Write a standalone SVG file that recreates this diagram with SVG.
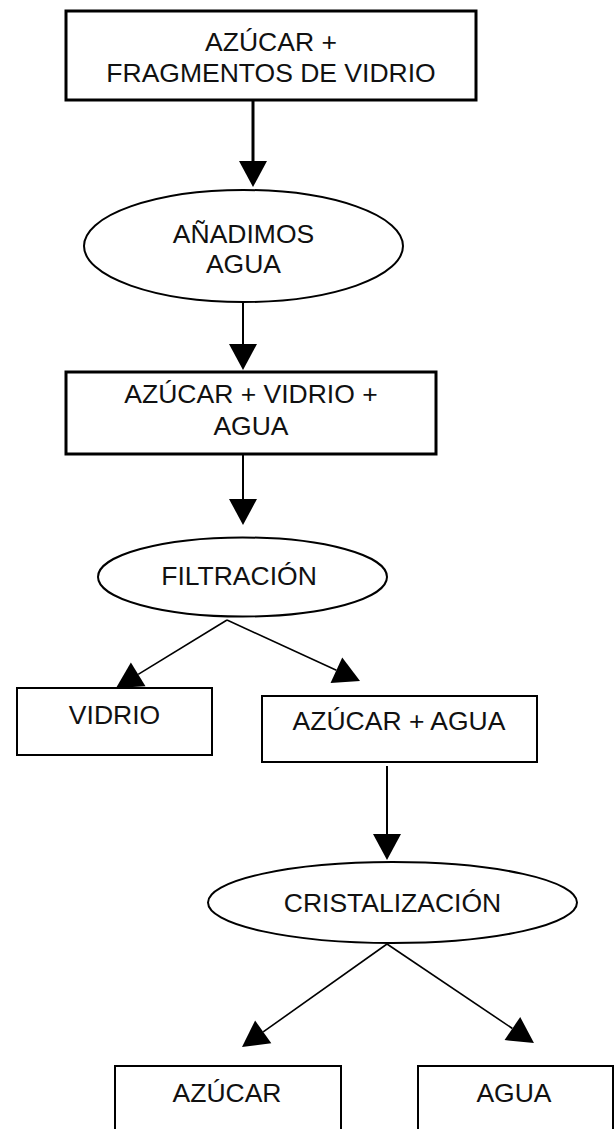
<svg xmlns="http://www.w3.org/2000/svg" width="615" height="1129" viewBox="0 0 615 1129">
<defs>
<marker id="ah" markerUnits="userSpaceOnUse" markerWidth="27" markerHeight="29" refX="0" refY="14" orient="auto" overflow="visible">
<path d="M0,0 L26,14 L0,28 Z" fill="#000"/>
</marker>
</defs>
<style>
.box{fill:#fff;stroke:#000;stroke-width:2}
.thick{stroke-width:3}
.ell{fill:#fff;stroke:#000;stroke-width:2}
.t{font-family:"Liberation Sans",Arial,sans-serif;font-size:26.5px;fill:#111;text-anchor:middle}
.c{fill:none;stroke:#000;stroke-width:2}
.d{fill:none;stroke:#000;stroke-width:1.6}
</style>
<rect width="615" height="1129" fill="#fff"/>
<g id="connectors">
<path class="c" style="stroke-width:3" d="M253,100 L253,161" marker-end="url(#ah)"/>
<path class="c" d="M243,302 L243,344" marker-end="url(#ah)"/>
<path class="c" d="M243,455 L243,499" marker-end="url(#ah)"/>
<path class="d" d="M227,620 L138.2,674.4" marker-end="url(#ah)"/>
<path class="d" d="M227,620 L336.4,670.2" marker-end="url(#ah)"/>
<path class="c" d="M387,766 L387,834" marker-end="url(#ah)"/>
<path class="d" d="M387,944 L263.2,1031.9" marker-end="url(#ah)"/>
<path class="d" d="M387,944 L512.4,1028.5" marker-end="url(#ah)"/>
</g>
<g id="n1">
<rect class="box thick" x="66" y="11" width="410" height="89"/>
<text class="t" x="271" y="51">AZÚCAR +</text>
<text class="t" x="271" y="82">FRAGMENTOS DE VIDRIO</text>
</g>
<g id="n2">
<ellipse class="ell" cx="243.5" cy="246" rx="159.5" ry="56"/>
<text class="t" x="243.5" y="243">AÑADIMOS</text>
<text class="t" x="243.5" y="273">AGUA</text>
</g>
<g id="n3">
<rect class="box thick" x="66" y="372" width="370" height="82"/>
<text class="t" x="251" y="403">AZÚCAR + VIDRIO +</text>
<text class="t" x="251" y="435">AGUA</text>
</g>
<g id="n4">
<ellipse class="ell" cx="242.5" cy="577" rx="144.5" ry="39.5"/>
<text class="t" x="239" y="585">FILTRACIÓN</text>
</g>
<g id="n5">
<rect class="box" x="17" y="688" width="195" height="67"/>
<text class="t" x="114.5" y="724">VIDRIO</text>
</g>
<g id="n6">
<rect class="box" x="262" y="696" width="275" height="66"/>
<text class="t" x="399" y="730">AZÚCAR + AGUA</text>
</g>
<g id="n7">
<ellipse class="ell" cx="392.5" cy="902.5" rx="184.5" ry="40.5"/>
<text class="t" x="392.5" y="912">CRISTALIZACIÓN</text>
</g>
<g id="n8">
<rect class="box" x="115" y="1066" width="226" height="70"/>
<text class="t" x="227" y="1102">AZÚCAR</text>
</g>
<g id="n9">
<rect class="box" x="418" y="1066" width="195" height="70"/>
<text class="t" x="514" y="1102">AGUA</text>
</g>
</svg>
